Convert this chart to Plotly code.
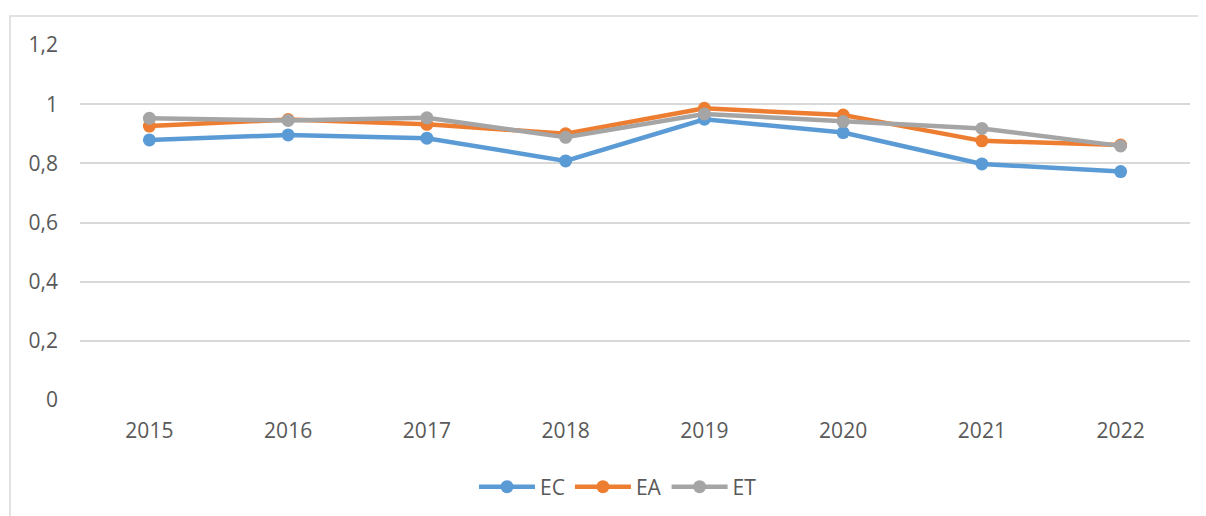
import plotly.graph_objects as go

years = ["2015", "2016", "2017", "2018", "2019", "2020", "2021", "2022"]
ec = [0.879, 0.896, 0.885, 0.808, 0.949, 0.904, 0.798, 0.772]
ea = [0.926, 0.948, 0.932, 0.900, 0.986, 0.963, 0.876, 0.862]
et = [0.952, 0.945, 0.954, 0.888, 0.967, 0.941, 0.918, 0.859]

series = [("EC", ec, "#5B9BD5"), ("EA", ea, "#ED7D31"), ("ET", et, "#A5A5A5")]

fig = go.Figure()
for name, vals, col in series:
    fig.add_trace(go.Scatter(
        x=years, y=vals, name=name, mode="lines+markers",
        line=dict(color=col, width=4.5),
        marker=dict(color=col, size=13),
    ))

font = dict(family="Open Sans, DejaVu Sans, sans-serif", size=21, color="#595959")

fig.update_layout(
    width=1206, height=516,
    margin=dict(l=72, r=24, t=37, b=124),
    paper_bgcolor="white", plot_bgcolor="white",
    separators=", ",
    font=font,
    showlegend=True,
    legend=dict(orientation="h", x=0.4847, xanchor="center", y=-0.245, yanchor="middle",
                font=font, itemwidth=56, traceorder="normal"),
    xaxis=dict(type="category", range=[-0.5, 7.5], showgrid=False, zeroline=False,
               showline=False, ticks="", ticklabelstandoff=16, tickfont=font),
    yaxis=dict(range=[0, 1.2], dtick=0.2, tick0=0, showgrid=True, gridcolor="#d9d9d9",
               gridwidth=1.5, zeroline=False, showline=False, ticks="",
               ticklabelstandoff=21, tickfont=font),
    shapes=[dict(type="rect", xref="paper", yref="paper",
                 x0=-0.0631, x1=1.03, y0=-0.36, y1=1.0817,
                 line=dict(color="#d9d9d9", width=1.5), fillcolor="rgba(0,0,0,0)", layer="below")],
)

fig.write_html("out.html")
